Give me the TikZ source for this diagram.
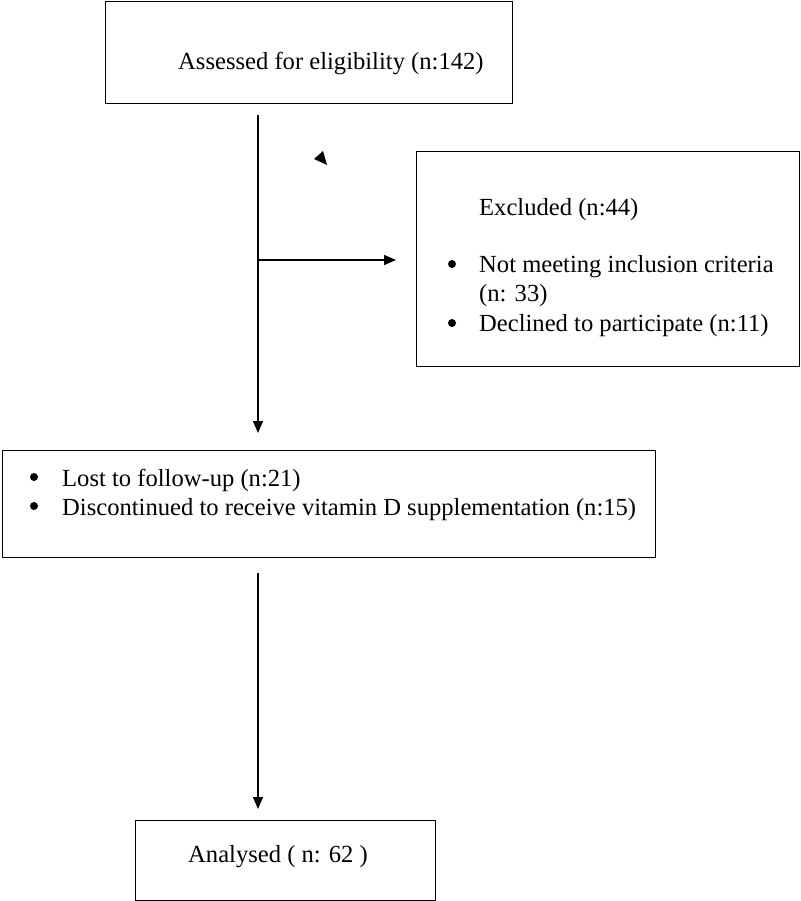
\documentclass[tikz,border=0pt]{standalone}
\usepackage{fontspec}
\setmainfont{Liberation Serif}
\usetikzlibrary{arrows.meta,calc}
\begin{document}
\begin{tikzpicture}[x=1pt,y=-1pt,
  box/.style={draw, line width=1.4pt, rectangle, inner sep=0pt, anchor=north west},
  arr/.style={line width=1.4pt, -{Triangle[length=12pt,width=10pt]}},
  lbl/.style={anchor=base west, inner sep=0pt, font=\fontsize{24.6}{29}\selectfont},
  bul/.style={circle, fill=black, inner sep=0pt, minimum size=8pt}]
\useasboundingbox (0,0) rectangle (800,901);
% boxes
\node[box, minimum width=407pt, minimum height=102pt] (top) at (105,1) {};
\node[box, minimum width=383pt, minimum height=215pt] (excl) at (416,151) {};
\node[box, minimum width=653pt, minimum height=107pt] (mid) at (2,450) {};
\node[box, minimum width=300pt, minimum height=80pt] (ana) at (135,820) {};
% texts
\node[lbl] (t1) at (178,70) {Assessed for eligibility (n:142)};
\node[lbl] (e0) at (479,215) {Excluded (n:44)};
\node[bul] (b1) at (452,264) {};
\node[lbl] (e1) at (479,272) {Not meeting inclusion criteria};
\node[lbl] (e2) at (479,301) {(n: 33)};
\node[bul] (b2) at (452,323) {};
\node[lbl] (e3) at (479,331) {Declined to participate (n:11)};
\node[bul] (b3) at (34,477) {};
\node[lbl] (m1) at (62,486) {Lost to follow-up (n:21)};
\node[bul] (b4) at (34,506) {};
\node[lbl] (m2) at (62,515) {Discontinued to receive vitamin D supplementation (n:15)};
\node[lbl] (a1) at (188,862) {Analysed ( n: 62 )};
% connectors
\coordinate (s1) at (258,115);
\coordinate (e1t) at (258,433);
\coordinate (j1) at (258,260);
\coordinate (h1) at (396,260);
\coordinate (s2) at (258,573);
\coordinate (e2t) at (258,809);
\draw[arr] (s1) -- (e1t);
\draw[arr] (j1) -- (h1);
\draw[arr] (s2) -- (e2t);
% stray arrowhead
\fill (314,159) -- (323,151) -- (327,165) -- cycle;
\end{tikzpicture}
\end{document}
